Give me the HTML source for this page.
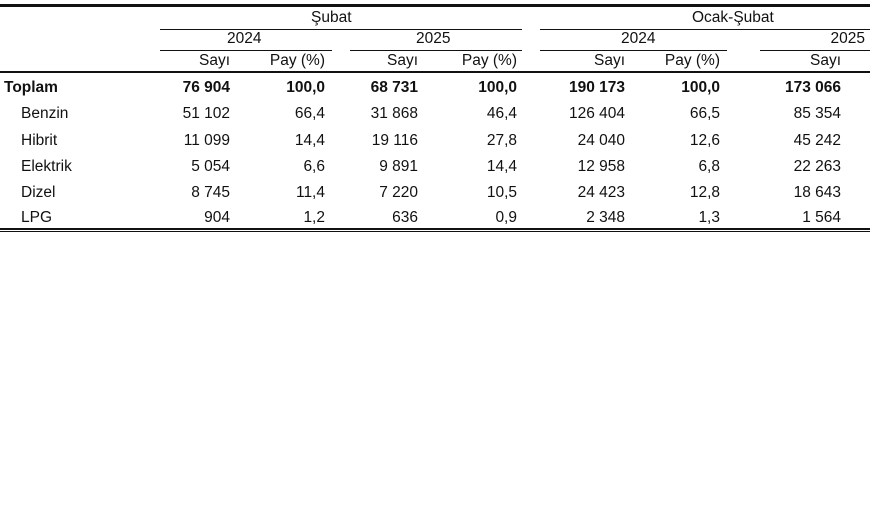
<!DOCTYPE html>
<html><head><meta charset="utf-8"><style>
body{margin:0;width:870px;height:516px;background:#fff;position:relative;overflow:hidden;font-family:"Liberation Sans",Arial,sans-serif;font-size:15.5px;color:#111}
.l{position:absolute;background:#111}
.t{position:absolute;white-space:nowrap;line-height:18px;margin-top:0px}
.r{text-align:right;width:100px}
.b{font-weight:bold}
</style></head><body>
<div class="l" style="left:0;top:4px;width:870px;height:3px"></div>
<div class="l" style="left:160px;top:29px;width:362px;height:1px"></div>
<div class="l" style="left:540px;top:29px;width:330px;height:1px"></div>
<div class="l" style="left:160px;top:50px;width:172px;height:1px"></div>
<div class="l" style="left:350px;top:50px;width:172px;height:1px"></div>
<div class="l" style="left:540px;top:50px;width:187px;height:1px"></div>
<div class="l" style="left:760px;top:50px;width:110px;height:1px"></div>
<div class="l" style="left:0;top:71px;width:870px;height:2px"></div>
<div class="l" style="left:0;top:228px;width:870px;height:2px"></div>
<div class="l" style="left:0;top:231px;width:870px;height:1px"></div>

<div class="t" style="left:311px;top:9px">Şubat</div>
<div class="t" style="left:692px;top:9px">Ocak-Şubat</div>
<div class="t" style="left:227px;top:30px">2024</div>
<div class="t" style="left:416px;top:30px">2025</div>
<div class="t" style="left:621px;top:30px">2024</div>
<div class="t r" style="left:765px;top:30px">2025</div>

<div class="t r" style="left:130px;top:52px">Sayı</div>
<div class="t r" style="left:225px;top:52px">Pay (%)</div>
<div class="t r" style="left:318px;top:52px">Sayı</div>
<div class="t r" style="left:417px;top:52px">Pay (%)</div>
<div class="t r" style="left:525px;top:52px">Sayı</div>
<div class="t r" style="left:620px;top:52px">Pay (%)</div>
<div class="t r" style="left:741px;top:52px">Sayı</div>

<div class="t b" style="left:4px;top:79px">Toplam</div>
<div class="t" style="left:21px;top:105px">Benzin</div>
<div class="t" style="left:21px;top:132px">Hibrit</div>
<div class="t" style="left:21px;top:158px">Elektrik</div>
<div class="t" style="left:21px;top:184px">Dizel</div>
<div class="t" style="left:21px;top:209px">LPG</div>

<div class="t r b" style="left:130px;top:79px">76 904</div>
<div class="t r b" style="left:225px;top:79px">100,0</div>
<div class="t r b" style="left:318px;top:79px">68 731</div>
<div class="t r b" style="left:417px;top:79px">100,0</div>
<div class="t r b" style="left:525px;top:79px">190 173</div>
<div class="t r b" style="left:620px;top:79px">100,0</div>
<div class="t r b" style="left:741px;top:79px">173 066</div>

<div class="t r" style="left:130px;top:105px">51 102</div>
<div class="t r" style="left:225px;top:105px">66,4</div>
<div class="t r" style="left:318px;top:105px">31 868</div>
<div class="t r" style="left:417px;top:105px">46,4</div>
<div class="t r" style="left:525px;top:105px">126 404</div>
<div class="t r" style="left:620px;top:105px">66,5</div>
<div class="t r" style="left:741px;top:105px">85 354</div>

<div class="t r" style="left:130px;top:132px">11 099</div>
<div class="t r" style="left:225px;top:132px">14,4</div>
<div class="t r" style="left:318px;top:132px">19 116</div>
<div class="t r" style="left:417px;top:132px">27,8</div>
<div class="t r" style="left:525px;top:132px">24 040</div>
<div class="t r" style="left:620px;top:132px">12,6</div>
<div class="t r" style="left:741px;top:132px">45 242</div>

<div class="t r" style="left:130px;top:158px">5 054</div>
<div class="t r" style="left:225px;top:158px">6,6</div>
<div class="t r" style="left:318px;top:158px">9 891</div>
<div class="t r" style="left:417px;top:158px">14,4</div>
<div class="t r" style="left:525px;top:158px">12 958</div>
<div class="t r" style="left:620px;top:158px">6,8</div>
<div class="t r" style="left:741px;top:158px">22 263</div>

<div class="t r" style="left:130px;top:184px">8 745</div>
<div class="t r" style="left:225px;top:184px">11,4</div>
<div class="t r" style="left:318px;top:184px">7 220</div>
<div class="t r" style="left:417px;top:184px">10,5</div>
<div class="t r" style="left:525px;top:184px">24 423</div>
<div class="t r" style="left:620px;top:184px">12,8</div>
<div class="t r" style="left:741px;top:184px">18 643</div>

<div class="t r" style="left:130px;top:209px">904</div>
<div class="t r" style="left:225px;top:209px">1,2</div>
<div class="t r" style="left:318px;top:209px">636</div>
<div class="t r" style="left:417px;top:209px">0,9</div>
<div class="t r" style="left:525px;top:209px">2 348</div>
<div class="t r" style="left:620px;top:209px">1,3</div>
<div class="t r" style="left:741px;top:209px">1 564</div>
</body></html>
